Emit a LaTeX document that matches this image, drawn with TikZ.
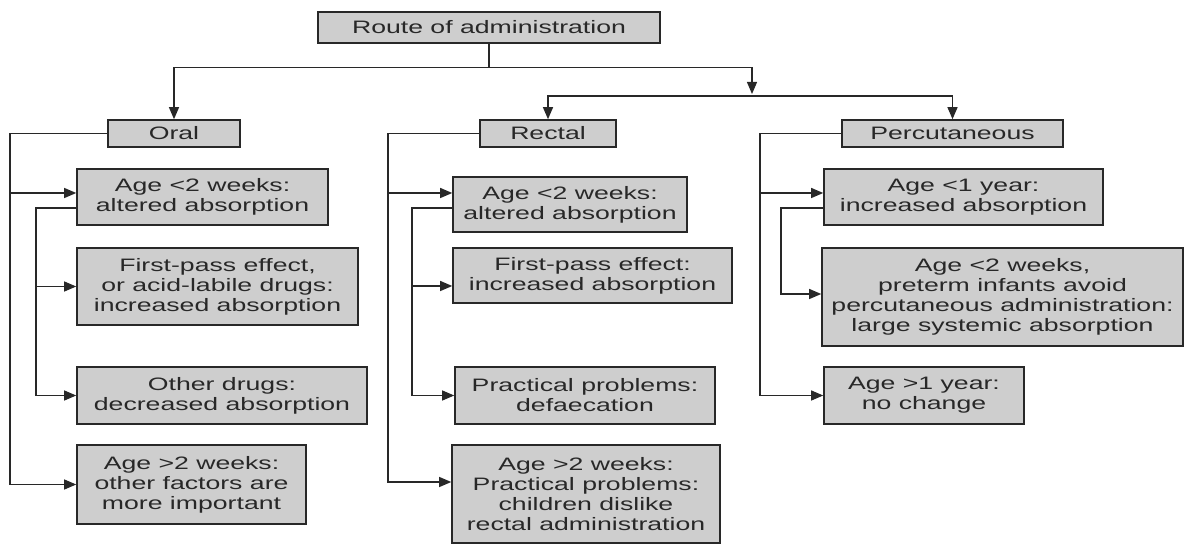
\documentclass[tikz,border=0pt]{standalone}
\usepackage{fontspec}
\setmainfont[FakeStretch=1.48]{Liberation Sans}
\usetikzlibrary{arrows.meta}
\definecolor{boxgray}{RGB}{206,206,206}
\definecolor{ink}{RGB}{40,40,40}
\tikzset{
  box/.style 2 args={draw=ink,fill=boxgray,line width=0.8pt,align=center,inner sep=1pt,
    text=ink,font=\fontsize{9}{10}\selectfont,minimum width=#1,minimum height=#2},
  arr/.style={draw=ink,line width=0.6pt,-{Triangle[length=6pt,width=5pt]}},
  link/.style={draw=ink,line width=0.6pt}
}

\begin{document}
\begin{tikzpicture}[x=0.5pt,y=-0.5pt]
    \useasboundingbox (0,0) rectangle (1187,544);

    \node [box={171pt}{15.5pt}] (root) at (489,27.5) {Route of administration};
    \node [box={66pt}{13.5pt}] (oral) at (174,133.5) {Oral};
    \node [box={68pt}{13.5pt}] (rectal) at (548,133.5) {Rectal};
    \node [box={110.5pt}{13.5pt}] (perc) at (952.5,133.5) {Percutaneous};

    \node [box={125.5pt}{28pt}] (o1) at (202.5,197) {Age <2 weeks:\\altered absorption};
    \node [box={140.5pt}{38.5pt}] (o2) at (217.5,286.5) {First-pass effect,\\or acid-labile drugs:\\increased absorption};
    \node [box={145pt}{28.5pt}] (o3) at (222,395.5) {Other drugs:\\decreased absorption};
    \node [box={114.5pt}{39.5pt}] (o4) at (191.5,484.5) {Age >2 weeks:\\other factors are\\more important};

    \node [box={117pt}{27.5pt}] (r1) at (570,204.5) {Age <2 weeks:\\altered absorption};
    \node [box={139.5pt}{27.5pt}] (r2) at (592.5,275.5) {First-pass effect:\\increased absorption};
    \node [box={130pt}{28.5pt}] (r3) at (585,395.5) {Practical problems:\\defaecation};
    \node [box={134pt}{49pt}] (r4) at (586,494) {Age >2 weeks:\\Practical problems:\\children dislike\\rectal administration};

    \node [box={139.5pt}{28pt}] (p1) at (963.5,197) {Age <1 year:\\increased absorption};
    \node [box={180.5pt}{49pt}] (p2) at (1002.5,297) {Age <2 weeks,\\preterm infants avoid\\percutaneous administration:\\large systemic absorption};
    \node [box={100pt}{28.5pt}] (p3) at (924,395.5) {Age >1 year:\\no change};

    % columns of the side branches
    \coordinate (ocol) at (10,0);
    \coordinate (oin) at (36,0);
    \coordinate (rcol) at (388,0);
    \coordinate (rin) at (412,0);
    \coordinate (pcol) at (760,0);
    \coordinate (pin) at (781,0);
    \coordinate (fork) at (752,94);
    \coordinate (bar) at (752,96);

    \draw [arr] (root.south) -- ++(0,24) -| (oral.north);
    \draw [arr] (root.south) -- ++(0,24) -| (fork);
    \draw [arr] (bar) -| (rectal.north);
    \draw [arr] (bar) -| (perc.north);

    \draw [arr] (oral.west) -| (ocol |- o4.west) -- (o4.west);
    \draw [arr] ([yshift=2pt]ocol |- o1.west) -- ([yshift=2pt]o1.west);
    \draw [arr] ([yshift=-5.5pt]o1.west) -| (oin |- o3.west) -- (o3.west);
    \draw [arr] (oin |- o2.west) -- (o2.west);

    \draw [arr] (rectal.west) -| ([yshift=6pt]rcol |- r4.west) -- ([yshift=6pt]r4.west);
    \draw [arr] ([yshift=5.75pt]rcol |- r1.west) -- ([yshift=5.75pt]r1.west);
    \draw [arr] ([yshift=-1.75pt]r1.west) -| (rin |- r3.west) -- (r3.west);
    \draw [arr] ([yshift=-5.25pt]rin |- r2.west) -- ([yshift=-5.25pt]r2.west);

    \draw [arr] (perc.west) -| (pcol |- p3.west) -- (p3.west);
    \draw [arr] ([yshift=2pt]pcol |- p1.west) -- ([yshift=2pt]p1.west);
    \draw [arr] ([yshift=-5.5pt]p1.west) -| ([yshift=1.5pt]pin |- p2.west) -- ([yshift=1.5pt]p2.west);
  \end{tikzpicture}
\end{document}
